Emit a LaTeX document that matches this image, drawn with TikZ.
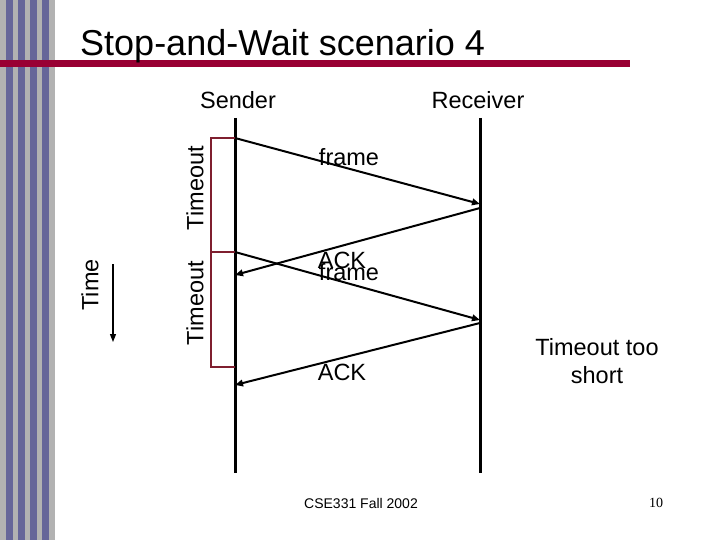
\documentclass[tikz,border=0pt]{standalone}
\usepackage{fontspec}
\setmainfont{Liberation Sans}
\newfontfamily\serifnum{Liberation Serif}
\usetikzlibrary{arrows.meta}
\definecolor{stripegray}{HTML}{B2B2B2}
\definecolor{stripeblue}{HTML}{666699}
\definecolor{barred}{HTML}{990033}
\definecolor{bracketred}{HTML}{7F1F2F}
\tikzset{
  lbl/.style={font=\fontsize{23.5}{26}\selectfont, inner sep=0pt},
  timeline/.style={line width=3pt, black},
  msg/.style={line width=2pt, black, -{Triangle[length=8pt,width=6.5pt]}},
  bracket/.style={line width=2pt, bracketred},
}
\begin{document}
\begin{tikzpicture}[x=1pt,y=-1pt]
\useasboundingbox (0,0) rectangle (720,540);
% left stripes
\fill[stripegray] (0,0) rectangle (55,540);
\foreach \s in {6,18,30,42} {\fill[stripeblue] (\s,0) rectangle (\s+6.7,540);}
% title bar
\fill[barred] (0,60) rectangle (630,67);
\node[anchor=base west, inner sep=0pt, font=\fontsize{36}{40}\selectfont] (title) at (80,56) {Stop-and-Wait scenario 4};
% headers
\node[lbl] (sender) at (238,100) {Sender};
\node[lbl] (receiver) at (478,100) {Receiver};
% timelines
\coordinate (s0) at (235,118);
\coordinate (s1) at (235,473);
\coordinate (r0) at (480,118);
\coordinate (r1) at (480,473);
\draw[timeline] (s0) -- (s1);
\draw[timeline] (r0) -- (r1);
% bracket
\coordinate (b1) at (235,138);
\coordinate (b2) at (235,252);
\coordinate (b3) at (235,367);
\draw[bracket] (b1) -- (211,138) -- (211,367) -- (b3);
\draw[bracket] (b2) -- (211,252);
% messages
\coordinate (f1s) at (235,138);
\coordinate (f1e) at (480,204);
\coordinate (a1s) at (480,208);
\coordinate (a1e) at (235,275);
\coordinate (f2s) at (235,252);
\coordinate (f2e) at (480,320);
\coordinate (a2s) at (480,323);
\coordinate (a2e) at (235,385);
\draw[msg] (f1s) -- (f1e);
\draw[msg] (a1s) -- (a1e);
\draw[msg] (f2s) -- (f2e);
\draw[msg] (a2s) -- (a2e);
\node[lbl] (lf1) at (349,157) {frame};
\node[lbl] (la1) at (342,260) {ACK};
\node[lbl] (lf2) at (349,272) {frame};
\node[lbl] (la2) at (342,372) {ACK};
% timeout labels
\node[lbl, rotate=90] (t1) at (195,188) {Timeout};
\node[lbl, rotate=90] (t2) at (195,303) {Timeout};
% time arrow
\node[lbl, rotate=90] (time) at (90,285) {Time};
\coordinate (ta) at (113,264);
\coordinate (tb) at (113,342);
\draw[line width=1.3pt, -{Triangle[length=8pt,width=6pt]}] (ta) -- (tb);
% note
\node[lbl, align=center, font=\fontsize{23.5}{28}\selectfont] (note) at (597,361) {Timeout too\\short};
% footer
\node[inner sep=0pt, font=\fontsize{14}{15}\selectfont] (foot) at (361,503) {CSE331 Fall 2002};
\node[inner sep=0pt, font=\serifnum\fontsize{14}{15}\selectfont] (page) at (656,503) {10};
\end{tikzpicture}
\end{document}
